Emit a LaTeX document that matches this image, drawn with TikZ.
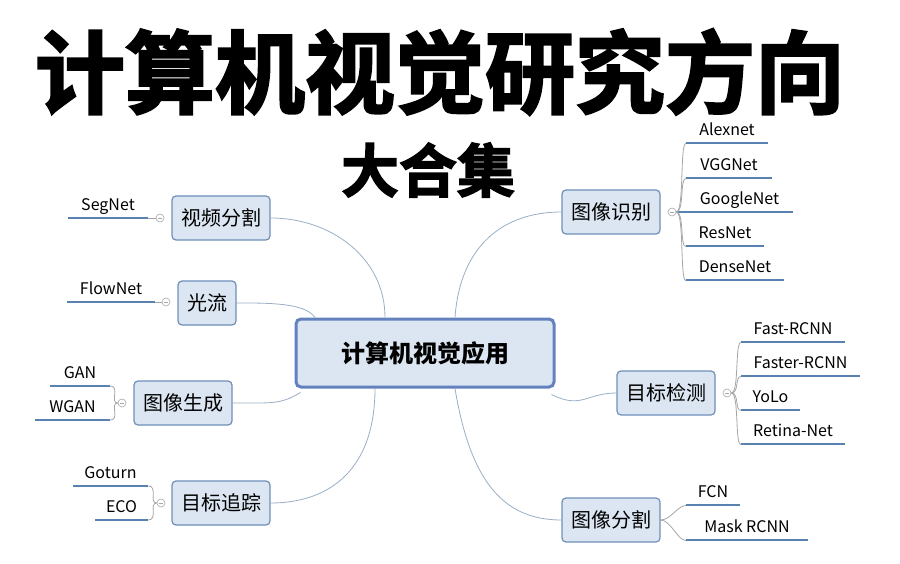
\documentclass[tikz,border=0pt]{standalone}
\usepackage{fontspec}
\setmainfont{Noto Sans CJK SC}
\newfontfamily\titlefont[FakeBold=2.5]{Noto Sans CJK SC Bold}
\usetikzlibrary{calc}
\definecolor{boxfill}{HTML}{DCE6F2}
\definecolor{boxline}{HTML}{6F8FB8}
\definecolor{leafblue}{HTML}{5A82B0}
\definecolor{conn}{HTML}{9AAFC6}
\tikzset{
  branch/.style={draw=boxline, line width=1.2pt, fill=boxfill, rounded corners=4pt, minimum height=44pt, inner xsep=9pt, font=\fontsize{20}{20}\selectfont},
  leaf/.style={anchor=south, inner sep=0pt, text depth=7pt, font=\fontsize{16}{16}\selectfont},
  leafline/.style={draw=leafblue, line width=2.2pt},
  conn/.style={draw=conn, line width=0.8pt},
  knob/.style={circle, draw=gray!70, fill=white, inner sep=0pt, minimum size=8pt, line width=0.6pt},
}
\newcommand{\leafat}[5]{% name, x1, x2, y, text
  \node[leaf, minimum width={(#3-#2)*1pt}] (#1) at ({(#2+#3)/2},#4) {#5};
  \draw[leafline] (#1.south west) -- (#1.south east);}
\begin{document}
\begin{tikzpicture}[x=1pt,y=-1pt]
\useasboundingbox (0,0) rectangle (900,564);
\fill[white] (0,0) rectangle (900,564);
% title
\node[font=\fontsize{90}{90}\selectfont\titlefont, inner sep=0pt] (title) at (440,72) {计算机视觉研究方向};
\node[font=\fontsize{58}{58}\selectfont\titlefont, inner sep=0pt] (sub) at (428,170) {大合集};
% central
\node[draw=boxline!90!blue, line width=3pt, fill=boxfill, rounded corners=5pt, minimum width=258pt, minimum height=68pt, font=\fontsize{24}{24}\selectfont\bfseries] (c) at (425,353) {计算机视觉应用};
% branches
\node[branch] (b1) at (221,218) {视频分割};
\node[branch] (b2) at (207,303) {光流};
\node[branch] (b3) at (183,403) {图像生成};
\node[branch] (b4) at (221,503) {目标追踪};
\node[branch] (b5) at (611,212) {图像识别};
\node[branch] (b6) at (666,393) {目标检测};
\node[branch] (b7) at (611,520) {图像分割};
% main connectors
\draw[conn] ([xshift=-40pt]c.north) .. controls +(0,-60) and +(60,0) .. (b1.east);
\draw[conn] ([xshift=-110pt]c.north) .. controls +(-10,-15) and +(30,0) .. (b2.east);
\draw[conn] ([xshift=6pt,yshift=-4pt]c.south west) .. controls +(-20,12) and +(40,0) .. (b3.east);
\draw[conn] ([xshift=-50pt]c.south) .. controls +(0,80) and +(60,0) .. (b4.east);
\draw[conn] ([xshift=30pt]c.north) .. controls +(5,-70) and +(-60,0) .. (b5.west);
\draw[conn] ([xshift=-4pt,yshift=-6pt]c.south east) .. controls +(30,15) and +(-30,0) .. (b6.west);
\draw[conn] ([xshift=30pt]c.south) .. controls +(15,90) and +(-60,0) .. (b7.west);
% knobs
\node[knob] (k1) at (160,218) {};
\node[knob] (k2) at (166,302) {};
\node[knob] (k3) at (122,403) {};
\node[knob] (k4) at (161,503) {};
\node[knob] (k5) at (672,212) {};
\node[knob] (k6) at (727,393) {};
\foreach \k in {k1,k2,k3,k4,k5,k6}{\draw[gray!70, line width=0.6pt] ([xshift=-2pt]\k.center) -- ([xshift=2pt]\k.center);}
% leaves left
\leafat{l1}{68}{148}{218}{SegNet}
\leafat{l2}{67}{155}{302}{FlowNet}
\leafat{l3}{50}{110}{386}{GAN}
\leafat{l4}{35}{110}{420}{WGAN}
\leafat{l5}{73}{148}{486}{Goturn}
\leafat{l6}{95}{148}{520}{ECO}
\draw[conn, draw=gray!70] (l1.south east) -- (k1.west);
\draw[conn, draw=gray!70] (l2.south east) -- (k2.west);
\foreach \l in {l3,l4}{\draw[conn, draw=gray!70] (k3.west) .. controls +(-8,0) and +(10,0) .. (\l.south east);}
\foreach \l in {l5,l6}{\draw[conn, draw=gray!70] (k4.west) .. controls +(-8,0) and +(10,0) .. (\l.south east);}
% leaves right
\leafat{r1}{686}{768}{143}{Alexnet}
\leafat{r2}{686}{772}{178}{VGGNet}
\leafat{r3}{686}{793}{212}{GoogleNet}
\leafat{r4}{686}{764}{246}{ResNet}
\leafat{r5}{686}{784}{280}{DenseNet}
\leafat{s1}{741}{845}{342}{Fast-RCNN}
\leafat{s2}{741}{860}{376}{Faster-RCNN}
\leafat{s3}{741}{800}{410}{YoLo}
\leafat{s4}{741}{845}{444}{Retina-Net}
\leafat{t1}{686}{740}{505}{FCN}
\leafat{t2}{686}{808}{540}{Mask RCNN}
\draw[leafline] (r3.south west) -- (k5.east);
\foreach \l in {r1,r2,r4,r5}{\draw[conn, draw=gray!70] (k5.east) .. controls +(8,0) and +(-6,0) .. ([yshift=-0.5pt]\l.south west);}
\foreach \l in {s1,s2,s3,s4}{\draw[conn, draw=gray!70] (k6.east) .. controls +(8,0) and +(-6,0) .. ([yshift=-0.5pt]\l.south west);}
\foreach \l in {t1,t2}{\draw[conn, draw=gray!70] (b7.east) .. controls +(10,0) and +(-8,0) .. ([yshift=-0.5pt]\l.south west);}
\end{tikzpicture}
\end{document}
